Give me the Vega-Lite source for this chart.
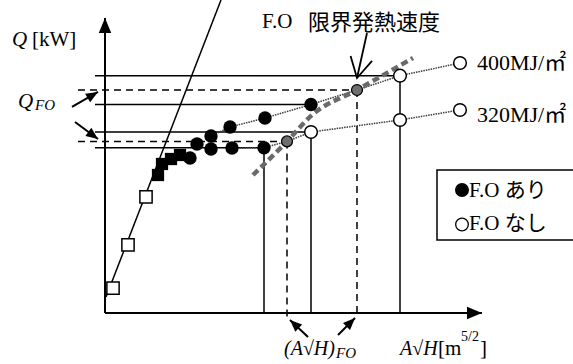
{
  "$schema": "https://vega.github.io/schema/vega-lite/v6.json",
  "width": 573,
  "height": 364,
  "autosize": {"type": "none"},
  "padding": 0,
  "background": "white",
  "config": {"view": {"stroke": null}},
  "datasets": {
    "axes": [
      {"x": 0, "y": 98.33, "x2": 0, "y2": 0, "dir": 0},
      {"x": 94.25, "y": 0, "x2": 0, "y2": 0, "dir": 90}
    ],
    "hguides": [
      {"x": -2.5, "x2": 73.75, "y": 79.1, "level": "Q"},
      {"x": -6.75, "x2": 63, "y": 74.33, "level": "QFO"},
      {"x": -2.5, "x2": 51.5, "y": 69.5, "level": "Q"},
      {"x": -2.5, "x2": 51.5, "y": 60.33, "level": "Q"},
      {"x": -6.75, "x2": 45.5, "y": 57.2, "level": "QFO"},
      {"x": -2.5, "x2": 39.75, "y": 55.1, "level": "Q"}
    ],
    "vguides": [
      {"x": 39.75, "y": 55.1, "y2": 0, "level": "Q"},
      {"x": 45.5, "y": 57.2, "y2": -2.33, "level": "QFO"},
      {"x": 51.5, "y": 60.33, "y2": 0, "level": "Q"},
      {"x": 63, "y": 74.33, "y2": 0, "level": "QFO"},
      {"x": 73.75, "y": 79.1, "y2": 0, "level": "Q"}
    ],
    "growth": [
      {"x": 0.25, "y": 5.33},
      {"x": 29, "y": 104.33}
    ],
    "curves": [
      {"x": 26.5, "y": 59, "q": "400"},
      {"x": 31.25, "y": 62, "q": "400"},
      {"x": 40, "y": 65, "q": "400"},
      {"x": 51.5, "y": 69.5, "q": "400"},
      {"x": 63, "y": 74.33, "q": "400"},
      {"x": 73.75, "y": 79.1, "q": "400"},
      {"x": 88.75, "y": 83.33, "q": "400"},
      {"x": 31.75, "y": 55, "q": "320"},
      {"x": 39.75, "y": 55.1, "q": "320"},
      {"x": 45.5, "y": 57.2, "q": "320"},
      {"x": 51.5, "y": 60.33, "q": "320"},
      {"x": 73.75, "y": 64.33, "q": "320"},
      {"x": 88.75, "y": 67.67, "q": "320"}
    ],
    "limit": [
      {"x": 37, "y": 46},
      {"x": 45.5, "y": 57.2},
      {"x": 51.75, "y": 66},
      {"x": 63, "y": 74.33},
      {"x": 77, "y": 85}
    ],
    "openSquares": [
      {"x": 2, "y": 8.33},
      {"x": 5.75, "y": 22.67},
      {"x": 10.25, "y": 38.67}
    ],
    "blackSquares": [
      {"x": 13.25, "y": 46},
      {"x": 14.25, "y": 49.67},
      {"x": 16.5, "y": 51.33},
      {"x": 18.75, "y": 52.67}
    ],
    "blackCircles": [
      {"x": 21.25, "y": 51.67},
      {"x": 23, "y": 56.33},
      {"x": 26.5, "y": 59},
      {"x": 26.5, "y": 54.67},
      {"x": 31.25, "y": 62},
      {"x": 31.75, "y": 55},
      {"x": 40, "y": 65},
      {"x": 39.75, "y": 55.1},
      {"x": 51.5, "y": 69.5}
    ],
    "limitPoints": [
      {"x": 45.5, "y": 57.2},
      {"x": 63, "y": 74.33}
    ],
    "openCircles": [
      {"x": 51.5, "y": 60.33},
      {"x": 73.75, "y": 79.1},
      {"x": 73.75, "y": 64.33},
      {"x": 88.75, "y": 83.33},
      {"x": 88.75, "y": 67.67}
    ],
    "legendBox": [
      {"x": 83, "x2": 118, "y": 47.67, "y2": 24.33}
    ],
    "legendSymbols": [
      {"x": 89.25, "y": 41, "fo": "あり"},
      {"x": 89.25, "y": 29.5, "fo": "なし"}
    ],
    "pointers": [
      {"x": -1.75, "y": 73.67, "x2": -8.25, "y2": 68.67, "dir": 60},
      {"x": -1.75, "y": 58, "x2": -7.5, "y2": 63.67, "dir": 126.5},
      {"x": 46.25, "y": -2.33, "x2": 50.75, "y2": -8, "dir": 313.4},
      {"x": 62.5, "y": -1.67, "x2": 58.25, "y2": -7.33, "dir": 45}
    ],
    "callout": [
      {"x": 63, "y": 78.33, "x2": 65.5, "y2": 93.33, "dir": 192.5}
    ],
    "italicText": [
      {"x": -23.25, "y": 89, "t": "Q"},
      {"x": -21.75, "y": 68.33, "t": "Q"}
    ],
    "italicAxisText": [
      {"x": 44.75, "y": -14, "t": "(A√H)"},
      {"x": 73.75, "y": -14, "t": "A√H"}
    ],
    "plainText": [
      {"x": -18.25, "y": 89, "t": "[kW]"},
      {"x": 83.25, "y": -14, "t": "[m"},
      {"x": 93.75, "y": -14, "t": "]"},
      {"x": 39.25, "y": 95, "t": "F.O"},
      {"x": 91, "y": 38.67, "t": "F.O あり"},
      {"x": 91, "y": 27.67, "t": "F.O なし"}
    ],
    "seriesLabels": [
      {"x": 93, "y": 81, "t": "400MJ/㎡"},
      {"x": 93, "y": 63.67, "t": "320MJ/㎡"}
    ],
    "subscripts": [
      {"x": -17.5, "y": 67.67, "t": "FO"},
      {"x": 57.75, "y": -15, "t": "FO"}
    ],
    "superscripts": [
      {"x": 89, "y": -9.33, "t": "5/2"}
    ],
    "title": [
      {"x": 50.75, "y": 94.17, "t": "限界発熱速度"}
    ]
  },
  "encoding": {
    "x": {"field": "x", "type": "quantitative", "scale": {"domain": [-26.25, 117], "nice": false, "zero": false}, "axis": null},
    "y": {"field": "y", "type": "quantitative", "scale": {"domain": [-17, 104.3333], "nice": false, "zero": false}, "axis": null}
  },
  "layer": [
    {
      "data": {"name": "legendBox"},
      "mark": {"type": "rect", "fill": "white", "stroke": "black", "strokeWidth": 1.5},
      "encoding": {"x2": {"field": "x2"}, "y2": {"field": "y2"}}
    },
    {
      "data": {"name": "hguides"},
      "mark": {"type": "rule", "color": "black", "strokeWidth": 1.5},
      "encoding": {
        "x2": {"field": "x2"},
        "strokeDash": {"field": "level", "type": "nominal", "scale": {"domain": ["Q", "QFO"], "range": [[1, 0], [7, 5]]}, "legend": null}
      }
    },
    {
      "data": {"name": "vguides"},
      "mark": {"type": "rule", "color": "black", "strokeWidth": 1.5},
      "encoding": {
        "y2": {"field": "y2"},
        "strokeDash": {"field": "level", "type": "nominal", "scale": {"domain": ["Q", "QFO"], "range": [[1, 0], [7, 5]]}, "legend": null}
      }
    },
    {
      "data": {"name": "axes"},
      "mark": {"type": "rule", "color": "black", "strokeWidth": 2},
      "encoding": {"x2": {"field": "x2"}, "y2": {"field": "y2"}}
    },
    {
      "data": {"name": "axes"},
      "mark": {"type": "point", "shape": "M0,0L0.5,1.2L-0.5,1.2Z", "filled": true, "color": "black", "opacity": 1, "size": 625},
      "encoding": {"angle": {"field": "dir", "type": "quantitative", "scale": null}}
    },
    {
      "data": {"name": "growth"},
      "mark": {"type": "line", "color": "black", "strokeWidth": 1.5},
      "encoding": {}
    },
    {
      "data": {"name": "curves"},
      "mark": {"type": "line", "color": "#3a3a3a", "strokeWidth": 1.5, "strokeDash": [1.5, 1]},
      "encoding": {"detail": {"field": "q", "type": "nominal"}}
    },
    {
      "data": {"name": "limit"},
      "mark": {"type": "line", "color": "#6a6a6a", "strokeWidth": 4.5, "strokeDash": [7, 4], "interpolate": "monotone"},
      "encoding": {}
    },
    {
      "data": {"name": "openSquares"},
      "mark": {"type": "point", "shape": "square", "filled": true, "fill": "white", "stroke": "black", "strokeWidth": 1.5, "opacity": 1, "size": 150},
      "encoding": {}
    },
    {
      "data": {"name": "blackSquares"},
      "mark": {"type": "point", "shape": "square", "filled": true, "color": "black", "opacity": 1, "size": 150},
      "encoding": {}
    },
    {
      "data": {"name": "blackCircles"},
      "mark": {"type": "point", "shape": "circle", "filled": true, "color": "black", "opacity": 1, "size": 180},
      "encoding": {}
    },
    {
      "data": {"name": "limitPoints"},
      "mark": {"type": "point", "shape": "circle", "filled": true, "fill": "#6e6e6e", "stroke": "black", "strokeWidth": 1.2, "opacity": 1, "size": 120},
      "encoding": {}
    },
    {
      "data": {"name": "openCircles"},
      "mark": {"type": "point", "shape": "circle", "filled": true, "fill": "white", "stroke": "black", "strokeWidth": 1.5, "opacity": 1, "size": 160},
      "encoding": {}
    },
    {
      "data": {"name": "legendSymbols"},
      "mark": {"type": "point", "shape": "circle", "filled": true, "stroke": "black", "strokeWidth": 1.3, "opacity": 1, "size": 160},
      "encoding": {
        "fill": {"field": "fo", "type": "nominal", "scale": {"domain": ["あり", "なし"], "range": ["black", "white"]}, "legend": null}
      }
    },
    {
      "data": {"name": "pointers"},
      "mark": {"type": "rule", "color": "black", "strokeWidth": 2},
      "encoding": {"x2": {"field": "x2"}, "y2": {"field": "y2"}}
    },
    {
      "data": {"name": "pointers"},
      "mark": {"type": "point", "shape": "M0,0L0.5,1.2L-0.5,1.2Z", "filled": true, "color": "black", "opacity": 1, "size": 400},
      "encoding": {"angle": {"field": "dir", "type": "quantitative", "scale": null}}
    },
    {
      "data": {"name": "callout"},
      "mark": {"type": "rule", "color": "black", "strokeWidth": 1.8},
      "encoding": {"x2": {"field": "x2"}, "y2": {"field": "y2"}}
    },
    {
      "data": {"name": "callout"},
      "mark": {"type": "point", "shape": "M-0.55,1L0,0L0.55,1", "filled": false, "stroke": "black", "strokeWidth": 1.8, "opacity": 1, "size": 1600},
      "encoding": {"angle": {"field": "dir", "type": "quantitative", "scale": null}}
    },
    {
      "data": {"name": "italicText"},
      "mark": {"type": "text", "align": "left", "baseline": "alphabetic", "font": "Liberation Serif", "fontStyle": "italic", "fontSize": 21, "color": "black"},
      "encoding": {"text": {"field": "t"}}
    },
    {
      "data": {"name": "italicAxisText"},
      "mark": {"type": "text", "align": "left", "baseline": "alphabetic", "font": "Liberation Serif", "fontStyle": "italic", "fontSize": 20, "color": "black"},
      "encoding": {"text": {"field": "t"}}
    },
    {
      "data": {"name": "plainText"},
      "mark": {"type": "text", "align": "left", "baseline": "alphabetic", "font": "Liberation Serif, Noto Sans CJK JP", "fontSize": 21, "color": "black"},
      "encoding": {"text": {"field": "t"}}
    },
    {
      "data": {"name": "seriesLabels"},
      "mark": {"type": "text", "align": "left", "baseline": "alphabetic", "font": "Liberation Serif, Noto Sans CJK JP", "fontSize": 22, "color": "black"},
      "encoding": {"text": {"field": "t"}}
    },
    {
      "data": {"name": "subscripts"},
      "mark": {"type": "text", "align": "left", "baseline": "alphabetic", "font": "Liberation Serif", "fontStyle": "italic", "fontSize": 15, "color": "black"},
      "encoding": {"text": {"field": "t"}}
    },
    {
      "data": {"name": "superscripts"},
      "mark": {"type": "text", "align": "left", "baseline": "alphabetic", "font": "Liberation Serif", "fontSize": 14, "color": "black"},
      "encoding": {"text": {"field": "t"}}
    },
    {
      "data": {"name": "title"},
      "mark": {"type": "text", "align": "left", "baseline": "alphabetic", "font": "Noto Sans CJK JP", "fontSize": 22, "color": "black"},
      "encoding": {"text": {"field": "t"}}
    }
  ]
}
